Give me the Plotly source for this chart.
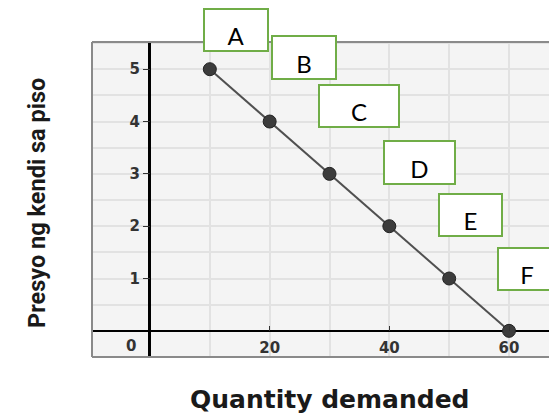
import plotly.graph_objects as go

# Data
quantity = [10, 20, 30, 40, 50, 60]
price = [5, 4, 3, 2, 1, 0]
point_labels = ["A", "B", "C", "D", "E", "F"]
x_tick_vals = [20, 40, 60]
y_tick_vals = [1, 2, 3, 4, 5]

# Layout (label box offsets in px relative to each point, and box sizes)
box_shift_x = [26, 34, 29, 30, 21, 18]
box_shift_y = [39, 64, 68, 64, 64, 62]
box_w = [66, 66, 82, 73, 65, 60]
box_h = [44, 45, 44, 45, 44, 44]

# the page body has an 8px margin, so figure pixels = page pixels - 8
W, H = 549, 408
ML, MR, MT, MB = 84, 0, 34, 59
XR = [-9.69, 68.02]
YR = [-0.50, 5.52]
PW, PH = W - ML - MR, H - MT - MB

pos_y_axis = (0 - XR[0]) / (XR[1] - XR[0])
pos_x_axis = (0 - YR[0]) / (YR[1] - YR[0])

tick_font = dict(family="DejaVu Sans", size=15, color="#333333", weight="bold")

fig = go.Figure()
fig.add_trace(go.Scatter(
    x=quantity, y=price, mode="lines+markers",
    line=dict(color="#505050", width=2),
    marker=dict(size=13, color="#3c3c3c", line=dict(color="#222222", width=1)),
    showlegend=False, cliponaxis=False,
))

annotations = []
for q, p, lab, sx, sy, bw, bh in zip(quantity, price, point_labels,
                                      box_shift_x, box_shift_y, box_w, box_h):
    annotations.append(dict(
        x=q, y=p, xref="x", yref="y", xshift=sx, yshift=sy,
        text=lab, showarrow=False, width=bw - 4, height=bh - 4,
        bgcolor="white", bordercolor="#70AD47", borderwidth=2, borderpad=0,
        valign="bottom", align="center",
        font=dict(family="Lato", size=24, color="black"),
    ))

# origin label
annotations.append(dict(x=0, y=0, xref="x", yref="y", text="0", showarrow=False,
                        xanchor="right", yanchor="middle", xshift=-12, yshift=-15,
                        font=tick_font))
# axis titles
annotations.append(dict(x=(322 - ML) / PW, y=-MB / PH,
                        xref="paper", yref="paper", text="Quantity demanded",
                        showarrow=False, xanchor="center", yanchor="bottom",
                        font=dict(family="DejaVu Sans", size=25, color="#1a1a1a", weight="bold")))
annotations.append(dict(x=(29 - ML) / PW, y=(H - MB - 195) / PH,
                        xref="paper", yref="paper", text="Presyo ng kendi sa piso",
                        showarrow=False, xanchor="center", yanchor="middle", textangle=-90,
                        font=dict(family="Roboto, Liberation Sans",
                                  size=23.5, color="#1a1a1a", weight="bold")))

shapes = [
    dict(type="line", xref="paper", yref="paper", x0=0, x1=0, y0=0, y1=1,
         line=dict(color="#8a8a8a", width=2)),
    dict(type="line", xref="paper", yref="paper", x0=0, x1=1, y0=1, y1=1,
         line=dict(color="#8a8a8a", width=2)),
    dict(type="line", xref="paper", yref="paper", x0=0, x1=1, y0=0, y1=0,
         line=dict(color="#8a8a8a", width=2)),
]

fig.update_layout(
    width=W, height=H,
    margin=dict(l=ML, r=MR, t=MT, b=MB),
    paper_bgcolor="white", plot_bgcolor="#f4f4f4",
    annotations=annotations, shapes=shapes,
    xaxis=dict(range=XR, anchor="free", position=pos_x_axis,
               tickmode="array", tickvals=x_tick_vals,
               ticks="inside", ticklen=5, tickcolor="#333333", tickwidth=1,
               ticklabelstandoff=6, tickfont=tick_font,
               showgrid=True, gridcolor="#e2e2e2", gridwidth=1.5,
               minor=dict(dtick=10, tick0=0, showgrid=True, gridcolor="#e2e2e2", gridwidth=1.5),
               zeroline=True, zerolinecolor="black", zerolinewidth=2.5,
               showline=False, fixedrange=True),
    yaxis=dict(range=YR, anchor="free", position=pos_y_axis,
               tickmode="array", tickvals=y_tick_vals,
               ticks="outside", ticklen=7, tickcolor="#333333", tickwidth=1,
               tickfont=tick_font,
               showgrid=True, gridcolor="#e2e2e2", gridwidth=1.5,
               minor=dict(dtick=0.5, tick0=0, showgrid=True, gridcolor="#e2e2e2", gridwidth=1.5),
               zeroline=True, zerolinecolor="black", zerolinewidth=2,
               showline=False, fixedrange=True),
)

fig.write_html("out.html")
